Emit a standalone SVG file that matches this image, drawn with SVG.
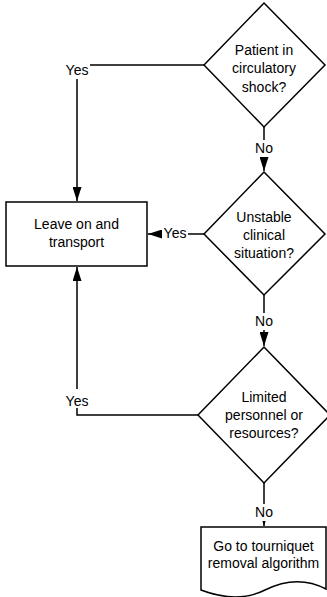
<svg xmlns="http://www.w3.org/2000/svg" width="327" height="597" viewBox="0 0 327 597">
<style>
.shape{fill:#fff;stroke:#000;stroke-width:1.5}
.conn{fill:none;stroke:#000;stroke-width:1.5}
.lbg{fill:#fff;stroke:none}
text{font-family:"Liberation Sans",Arial,sans-serif;font-size:14px;fill:#000;text-anchor:middle}
</style>
<defs>
<marker id="arr" markerUnits="userSpaceOnUse" markerWidth="14" markerHeight="9" refX="14" refY="4.5" orient="auto">
<path d="M0,0 L14,4.5 L0,9 Z" fill="#000"/>
</marker>
</defs>
<rect width="327" height="597" fill="#fff"/>
<g id="connectors">
<path class="conn" d="M204,65 H77 V201" marker-end="url(#arr)"/>
<rect class="lbg" x="64" y="60" width="26" height="19"/>
<text x="77" y="75">Yes</text>
<path class="conn" d="M264,127 V171" marker-end="url(#arr)"/>
<rect class="lbg" x="254" y="140" width="20" height="17"/>
<text x="264" y="153">No</text>
<path class="conn" d="M204,234 H148" marker-end="url(#arr)"/>
<rect class="lbg" x="162" y="226" width="26" height="15"/>
<text x="175" y="238">Yes</text>
<path class="conn" d="M264,295 V346" marker-end="url(#arr)"/>
<rect class="lbg" x="254" y="313" width="20" height="17"/>
<text x="264" y="326">No</text>
<path class="conn" d="M198,415 H77 V267" marker-end="url(#arr)"/>
<rect class="lbg" x="64" y="389" width="26" height="19"/>
<text x="77" y="406">Yes</text>
<path class="conn" d="M264,483 V526" marker-end="url(#arr)"/>
<rect class="lbg" x="254" y="504" width="20" height="17"/>
<text x="264" y="517">No</text>
</g>
<g id="d1">
<polygon class="shape" points="264,3 325,65 264,127 204,65"/>
<text x="264" y="54.5">Patient in</text>
<text x="264" y="73">circulatory</text>
<text x="264" y="91.5">shock?</text>
</g>
<g id="d2">
<polygon class="shape" points="264,172 325,234 264,295 204,234"/>
<text x="264" y="222">Unstable</text>
<text x="264" y="240">clinical</text>
<text x="264" y="258">situation?</text>
</g>
<g id="d3">
<polygon class="shape" points="264,347 330,415 264,483 198,415"/>
<text x="264" y="402">Limited</text>
<text x="264" y="420">personnel or</text>
<text x="264" y="437.5">resources?</text>
</g>
<g id="rect1">
<rect class="shape" x="6" y="202" width="141" height="64"/>
<text x="76.5" y="229">Leave on and</text>
<text x="76.5" y="247">transport</text>
</g>
<g id="doc">
<path class="shape" d="M201,527 H326 V589 C305,578 285,580 265,590 C245,600 222,598 201,590 Z"/>
<text x="263.5" y="551">Go to tourniquet</text>
<text x="263.5" y="568">removal algorithm</text>
</g>
</svg>
